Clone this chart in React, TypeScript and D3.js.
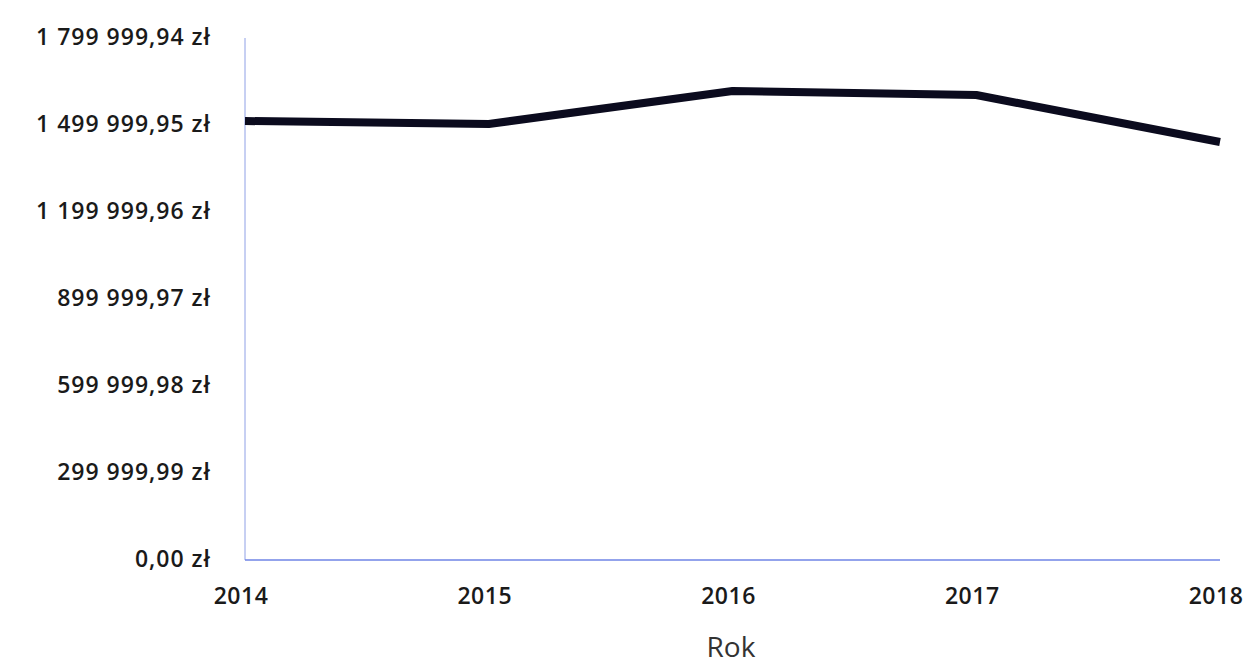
import React from "react";
import * as d3 from "d3";

const years = [2014, 2015, 2016, 2017, 2018];
const values = [1513800, 1503400, 1617200, 1603400, 1441400];
const yMax = 1799999.94;
const yTickCount = 6;

const W = 1254;
const H = 666;
const M = { left: 245, right: 34, top: 38, bottom: 106 };

const locale = d3.formatLocale({ decimal: ",", thousands: " ", grouping: [3], currency: ["", " zł"] });
const fmt = locale.format(",.2f");

export default function App() {
  const x = d3.scaleLinear().domain([2014, 2018]).range([M.left, W - M.right]);
  const y = d3.scaleLinear().domain([0, yMax]).range([H - M.bottom, M.top]);
  const yTicks = d3.range(0, yTickCount + 1).map((i) => (yMax / yTickCount) * i);
  const line = d3.line<number>().x((_, i) => x(years[i])).y((d) => y(d));
  return (
    <svg width={W} height={H} style={{ position: "absolute", left: 0, top: 0, background: "#fff" }}>
      <line x1={x(2014)} x2={x(2014)} y1={y(yMax)} y2={y(0)} stroke="#8fa0e6" strokeWidth={1} />
      <line x1={x(2014)} x2={x(2018)} y1={y(0)} y2={y(0)} stroke="#6f84e6" strokeWidth={1.5} />
      {yTicks.map((t, i) => (
        <text key={i} x={211} y={y(t)} dy="0.3em" textAnchor="end" fontFamily="Open Sans" fontWeight={600} fontSize={23} fill="#1a1a1a" letterSpacing={1}>
          {fmt(t) + " zł"}
        </text>
      ))}
      {years.map((yr) => (
        <text key={yr} x={x(yr) - 4} y={604} textAnchor="middle" fontFamily="Open Sans" fontWeight={600} fontSize={23} fill="#1a1a1a" letterSpacing={0.5}>
          {yr}
        </text>
      ))}
      <text x={731} y={657} textAnchor="middle" fontFamily="Open Sans" fontSize={28} fill="#333">
        Rok
      </text>
      <path d={line(values) || ""} fill="none" stroke="#0b0b1e" strokeWidth={8} strokeLinejoin="round" />
    </svg>
  );
}
